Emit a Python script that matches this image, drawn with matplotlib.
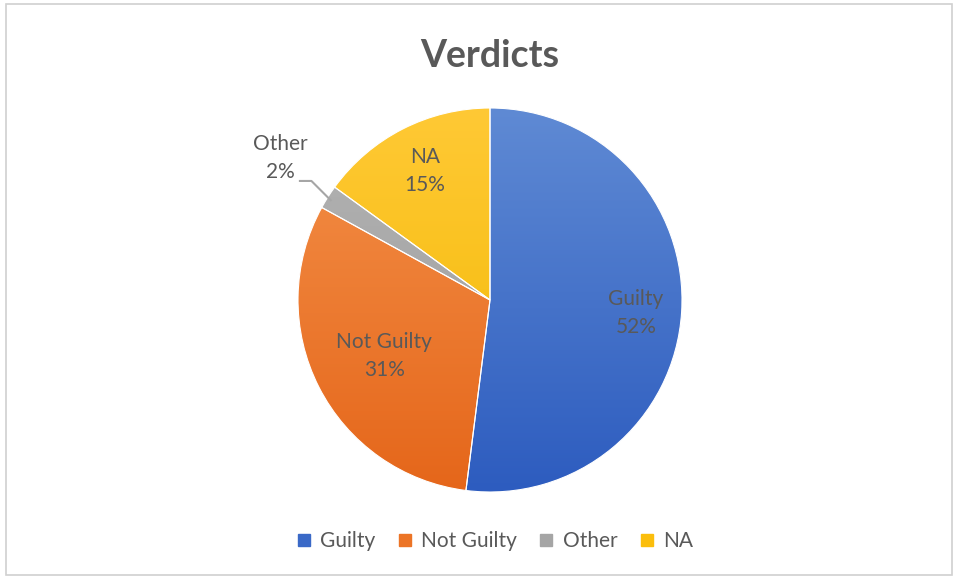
import numpy as np
import matplotlib.pyplot as plt
from matplotlib.colors import LinearSegmentedColormap
from matplotlib.patches import Rectangle
from matplotlib.lines import Line2D

plt.rcParams['font.family'] = ['Lato', 'DejaVu Sans']

labels = ['Guilty', 'Not Guilty', 'Other', 'NA']
shares = [52, 31, 2, 15]
top_colors = ['#5f8ad4', '#f4914a', '#b4b4b4', '#ffc935']
bottom_colors = ['#2d5cbf', '#e5661a', '#9a9a9a', '#f2b800']
legend_colors = ['#3a69c7', '#ec7426', '#a5a5a5', '#fbbe0c']
text_color = '#595959'

fig = plt.figure(figsize=(9.58, 5.81), dpi=100)

# chart frame
fig.patches.append(Rectangle((6 / 958, 6 / 581), 946 / 958, 571 / 581, transform=fig.transFigure,
                             fill=False, edgecolor='#d0d0d0', linewidth=1.2))

fig.text(0.5115, 0.904, 'Verdicts', ha='center', va='center', fontsize=27,
         fontweight='bold', color=text_color)

ax = fig.add_axes([298 / 958, 89 / 581, 384 / 958, 384 / 581])
wedges, _ = ax.pie(shares, startangle=90, counterclock=False, radius=1.0,
                   colors=legend_colors, wedgeprops=dict(edgecolor='white', linewidth=0.8))
ax.set_xlim(-1, 1)
ax.set_ylim(-1, 1)
ax.set_aspect('equal')

# vertical gradient fill in each wedge
grad = np.linspace(0, 1, 256).reshape(-1, 1)
for w, c0, c1 in zip(wedges, top_colors, bottom_colors):
    cmap = LinearSegmentedColormap.from_list('g', [c1, c0])
    im = ax.imshow(grad, extent=(-1, 1, -1, 1), origin='lower', cmap=cmap, aspect='auto', zorder=1.5)
    im.set_clip_path(w)
    w.set_zorder(2)
    w.set_facecolor('none')
ax.axis('off')

# data labels
pos = {'Guilty': (0.76, -0.07), 'Not Guilty': (-0.55, -0.29), 'NA': (-0.34, 0.67)}
for lab, s in zip(labels, shares):
    if lab in pos:
        x, y = pos[lab]
        ax.text(x, y, f'{lab}\n{s}%', ha='center', va='center', fontsize=15,
                color=text_color, linespacing=1.5, zorder=3)

# Other label outside with leader line
ax.text(-1.094, 0.74, 'Other\n2%', ha='center', va='center', fontsize=15,
        color=text_color, linespacing=1.5, zorder=3)
ax.add_line(Line2D([-0.99, -0.93, -0.83], [0.62, 0.62, 0.52], color='#a6a6a6',
                   linewidth=1.5, clip_on=False, zorder=3))

handles = [Line2D([], [], marker='s', linestyle='none', markersize=8,
                  markerfacecolor=c, markeredgecolor=c) for c in legend_colors]
fig.legend(handles, labels, loc='center', bbox_to_anchor=(0.515, 0.069), ncol=4,
           frameon=False, fontsize=15, handletextpad=0.3, columnspacing=0.9,
           labelcolor=text_color, handlelength=1.0)

fig.savefig('out.png', dpi=100)
